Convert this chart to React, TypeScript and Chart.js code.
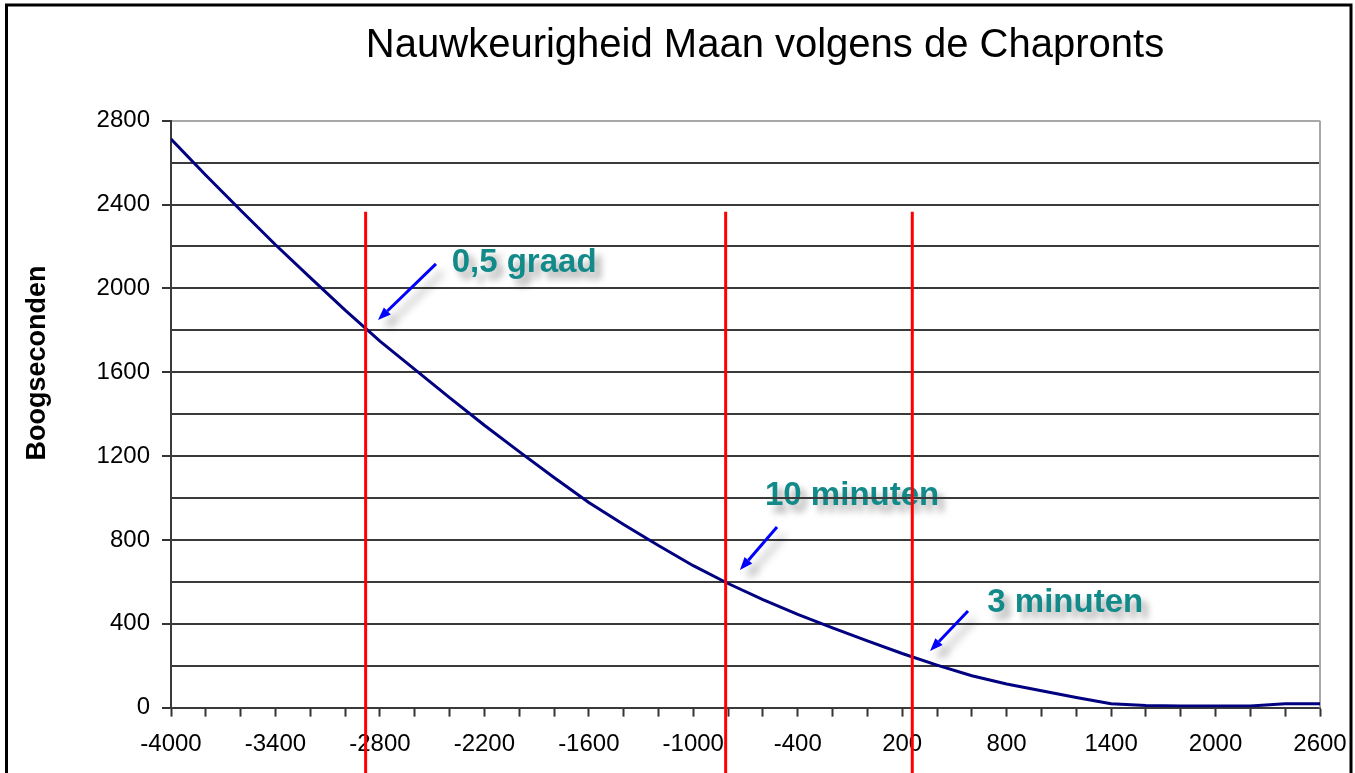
import { useEffect, useRef } from 'react';
import { Chart, registerables } from 'chart.js';

Chart.register(...registerables);

const FONT = '"Liberation Sans", Arial, Helvetica, sans-serif';

// Years (categories, every 200 years)
const YEARS = [
  -4000, -3800, -3600, -3400, -3200, -3000, -2800, -2600, -2400, -2200, -2000,
  -1800, -1600, -1400, -1200, -1000, -800, -600, -400, -200, 0, 200, 400, 600,
  800, 1000, 1200, 1400, 1600, 1800, 2000, 2200, 2400, 2600,
];
// Uncertainty of the Moon's position (arc seconds)
const ERROR_ARCSEC = [
  2712, 2540, 2373, 2208, 2051, 1896, 1748, 1614, 1479, 1347, 1221,
  1098, 979, 874, 773, 677, 592, 515, 445, 380, 318, 258, 203, 152,
  113, 80, 48, 18, 10, 8, 8, 8, 18, 18,
];

const X_TICK_LABELS = [-4000, -3400, -2800, -2200, -1600, -1000, -400, 200, 800, 1400, 2000, 2600];
const Y_TICK_LABELS = [0, 400, 800, 1200, 1600, 2000, 2400, 2800];

// Red marker lines (year) and the value where they start
const MARKER_YEARS = [-2882, -814, 258];
const MARKER_TOP = 2366;

// Callouts
const NOTE_TEXTS = ['0,5 graad', '10 minuten', '3 minuten'];
const NOTE_X = [-2388, -588, 689];
const NOTE_Y = [2080, 967, 458];
const ARROW_FROM_X = [-2478, -519, 578];
const ARROW_FROM_Y = [2117, 862, 461];
const ARROW_TO_X = [-2811, -732, 360];
const ARROW_TO_Y = [1849, 656, 270];

const TITLE = 'Nauwkeurigheid Maan volgens de Chapronts';
const Y_TITLE = 'Boogseconden';

const decorPlugin = {
  id: 'decor',
  beforeDraw(chart: any) {
    const ctx = chart.ctx;
    const xs = chart.scales.x;
    const ys = chart.scales.y;
    // title
    ctx.save();
    ctx.fillStyle = '#000';
    ctx.font = `40px ${FONT}`;
    ctx.textAlign = 'center';
    ctx.textBaseline = 'alphabetic';
    ctx.fillText(TITLE, 765, 57);
    ctx.restore();
    // y axis title
    ctx.save();
    ctx.translate(38, 363);
    ctx.rotate(-Math.PI / 2);
    ctx.fillStyle = '#000';
    ctx.font = `bold 27px ${FONT}`;
    ctx.textAlign = 'center';
    ctx.textBaseline = 'middle';
    ctx.fillText(Y_TITLE, 0, 0);
    ctx.restore();
    // callout texts (beneath grid lines)
    ctx.save();
    ctx.font = `bold 33px ${FONT}`;
    ctx.textAlign = 'left';
    ctx.textBaseline = 'alphabetic';
    ctx.fillStyle = '#138a8a';
    ctx.shadowColor = 'rgba(0,0,0,0.35)';
    ctx.shadowBlur = 7;
    ctx.shadowOffsetX = 6;
    ctx.shadowOffsetY = 7;
    NOTE_TEXTS.forEach((t, i) => {
      ctx.fillText(t, xs.getPixelForValue(NOTE_X[i]), ys.getPixelForValue(NOTE_Y[i]));
    });
    ctx.restore();
  },
  beforeDatasetsDraw(chart: any) {
    const ctx = chart.ctx;
    const a = chart.chartArea;
    ctx.save();
    ctx.strokeStyle = '#a8a8a8';
    ctx.lineWidth = 2;
    ctx.beginPath();
    ctx.moveTo(a.right, a.top);
    ctx.lineTo(a.right, a.bottom);
    ctx.stroke();
    ctx.restore();
  },
  afterDatasetsDraw(chart: any) {
    const ctx = chart.ctx;
    const xs = chart.scales.x;
    const ys = chart.scales.y;
    // red marker lines
    ctx.save();
    ctx.strokeStyle = '#ff0000';
    ctx.lineWidth = 3;
    MARKER_YEARS.forEach((yr) => {
      const px = xs.getPixelForValue(yr);
      ctx.beginPath();
      ctx.moveTo(px, ys.getPixelForValue(MARKER_TOP));
      ctx.lineTo(px, chart.height);
      ctx.stroke();
    });
    ctx.restore();
    // arrows
    ARROW_FROM_X.forEach((_, i) => {
      const x1 = xs.getPixelForValue(ARROW_FROM_X[i]);
      const y1 = ys.getPixelForValue(ARROW_FROM_Y[i]);
      const x2 = xs.getPixelForValue(ARROW_TO_X[i]);
      const y2 = ys.getPixelForValue(ARROW_TO_Y[i]);
      const ang = Math.atan2(y2 - y1, x2 - x1);
      const head = 13;
      const hw = 5;
      const bx = x2 - head * Math.cos(ang);
      const by = y2 - head * Math.sin(ang);
      ctx.save();
      ctx.shadowColor = 'rgba(0,0,0,0.35)';
      ctx.shadowBlur = 8;
      ctx.shadowOffsetX = 7;
      ctx.shadowOffsetY = 8;
      ctx.strokeStyle = '#0000ff';
      ctx.fillStyle = '#0000ff';
      ctx.lineWidth = 3;
      ctx.beginPath();
      ctx.moveTo(x1, y1);
      ctx.lineTo(bx, by);
      ctx.stroke();
      ctx.beginPath();
      ctx.moveTo(x2, y2);
      ctx.lineTo(bx + hw * Math.sin(ang), by - hw * Math.cos(ang));
      ctx.lineTo(bx - hw * Math.sin(ang), by + hw * Math.cos(ang));
      ctx.closePath();
      ctx.fill();
      ctx.restore();
    });
  },
  afterDraw(chart: any) {
    const ctx = chart.ctx;
    ctx.save();
    ctx.strokeStyle = '#000';
    ctx.lineWidth = 3;
    ctx.strokeRect(6.5, 5, 1344.5, 900);
    ctx.restore();
  },
};

export default function App() {
  const ref = useRef<HTMLCanvasElement | null>(null);
  useEffect(() => {
    if (!ref.current) return;
    Chart.defaults.font.family = FONT;
    const chart = new Chart(ref.current, {
      type: 'line',
      data: {
        datasets: [
          {
            data: YEARS.map((y, i) => ({ x: y, y: ERROR_ARCSEC[i] })),
            borderColor: '#000080',
            borderWidth: 3,
            pointRadius: 0,
            tension: 0,
            fill: false,
          },
        ],
      },
      options: {
        responsive: false,
        animation: false,
        layout: { padding: { left: 0, top: 120.7, right: 35, bottom: 0 } },
        plugins: {
          legend: { display: false },
          title: { display: false },
          tooltip: { enabled: false },
        },
        scales: {
          x: {
            type: 'linear',
            min: -4000,
            max: 2600,
            ticks: {
              stepSize: 200,
              autoSkip: false,
              maxRotation: 0,
              minRotation: 0,
              padding: 13,
              color: '#000',
              font: { size: 24, family: FONT },
              callback: (v: any) => (X_TICK_LABELS.includes(Number(v)) ? String(v) : ''),
            },
            grid: {
              drawOnChartArea: false,
              drawTicks: true,
              tickLength: 9,
              tickColor: '#333',
              tickWidth: 2,
            },
            border: { display: true, color: '#3a3a3a', width: 2 },
            afterFit: (s: any) => {
              s.height = 65.4;
              s.paddingLeft = 0;
              s.paddingRight = 0;
            },
          },
          y: {
            type: 'linear',
            min: 0,
            max: 2800,
            ticks: {
              stepSize: 200,
              autoSkip: false,
              padding: 12,
              color: '#000',
              font: { size: 24, family: FONT },
              callback: (v: any) => (Y_TICK_LABELS.includes(Number(v)) ? String(v) : ''),
            },
            grid: {
              color: (c: any) => (c.tick && c.tick.value === 2800 ? '#a8a8a8' : '#3a3a3a'),
              lineWidth: 2,
              tickLength: 9,
              tickWidth: 2,
              tickColor: (c: any) =>
                c.tick && Y_TICK_LABELS.includes(c.tick.value) ? '#333' : 'rgba(0,0,0,0)',
            },
            border: { display: true, color: '#3a3a3a', width: 2 },
            afterFit: (s: any) => {
              s.width = 171;
              s.paddingTop = 0;
              s.paddingBottom = 0;
            },
          },
        },
      },
      plugins: [decorPlugin],
    } as any);
    return () => chart.destroy();
  }, []);
  return (
    <div style={{ position: 'absolute', left: 0, top: 0, width: 1355, height: 773, background: '#fff' }}>
      <canvas ref={ref} width={1355} height={773} style={{ display: 'block' }} />
    </div>
  );
}
